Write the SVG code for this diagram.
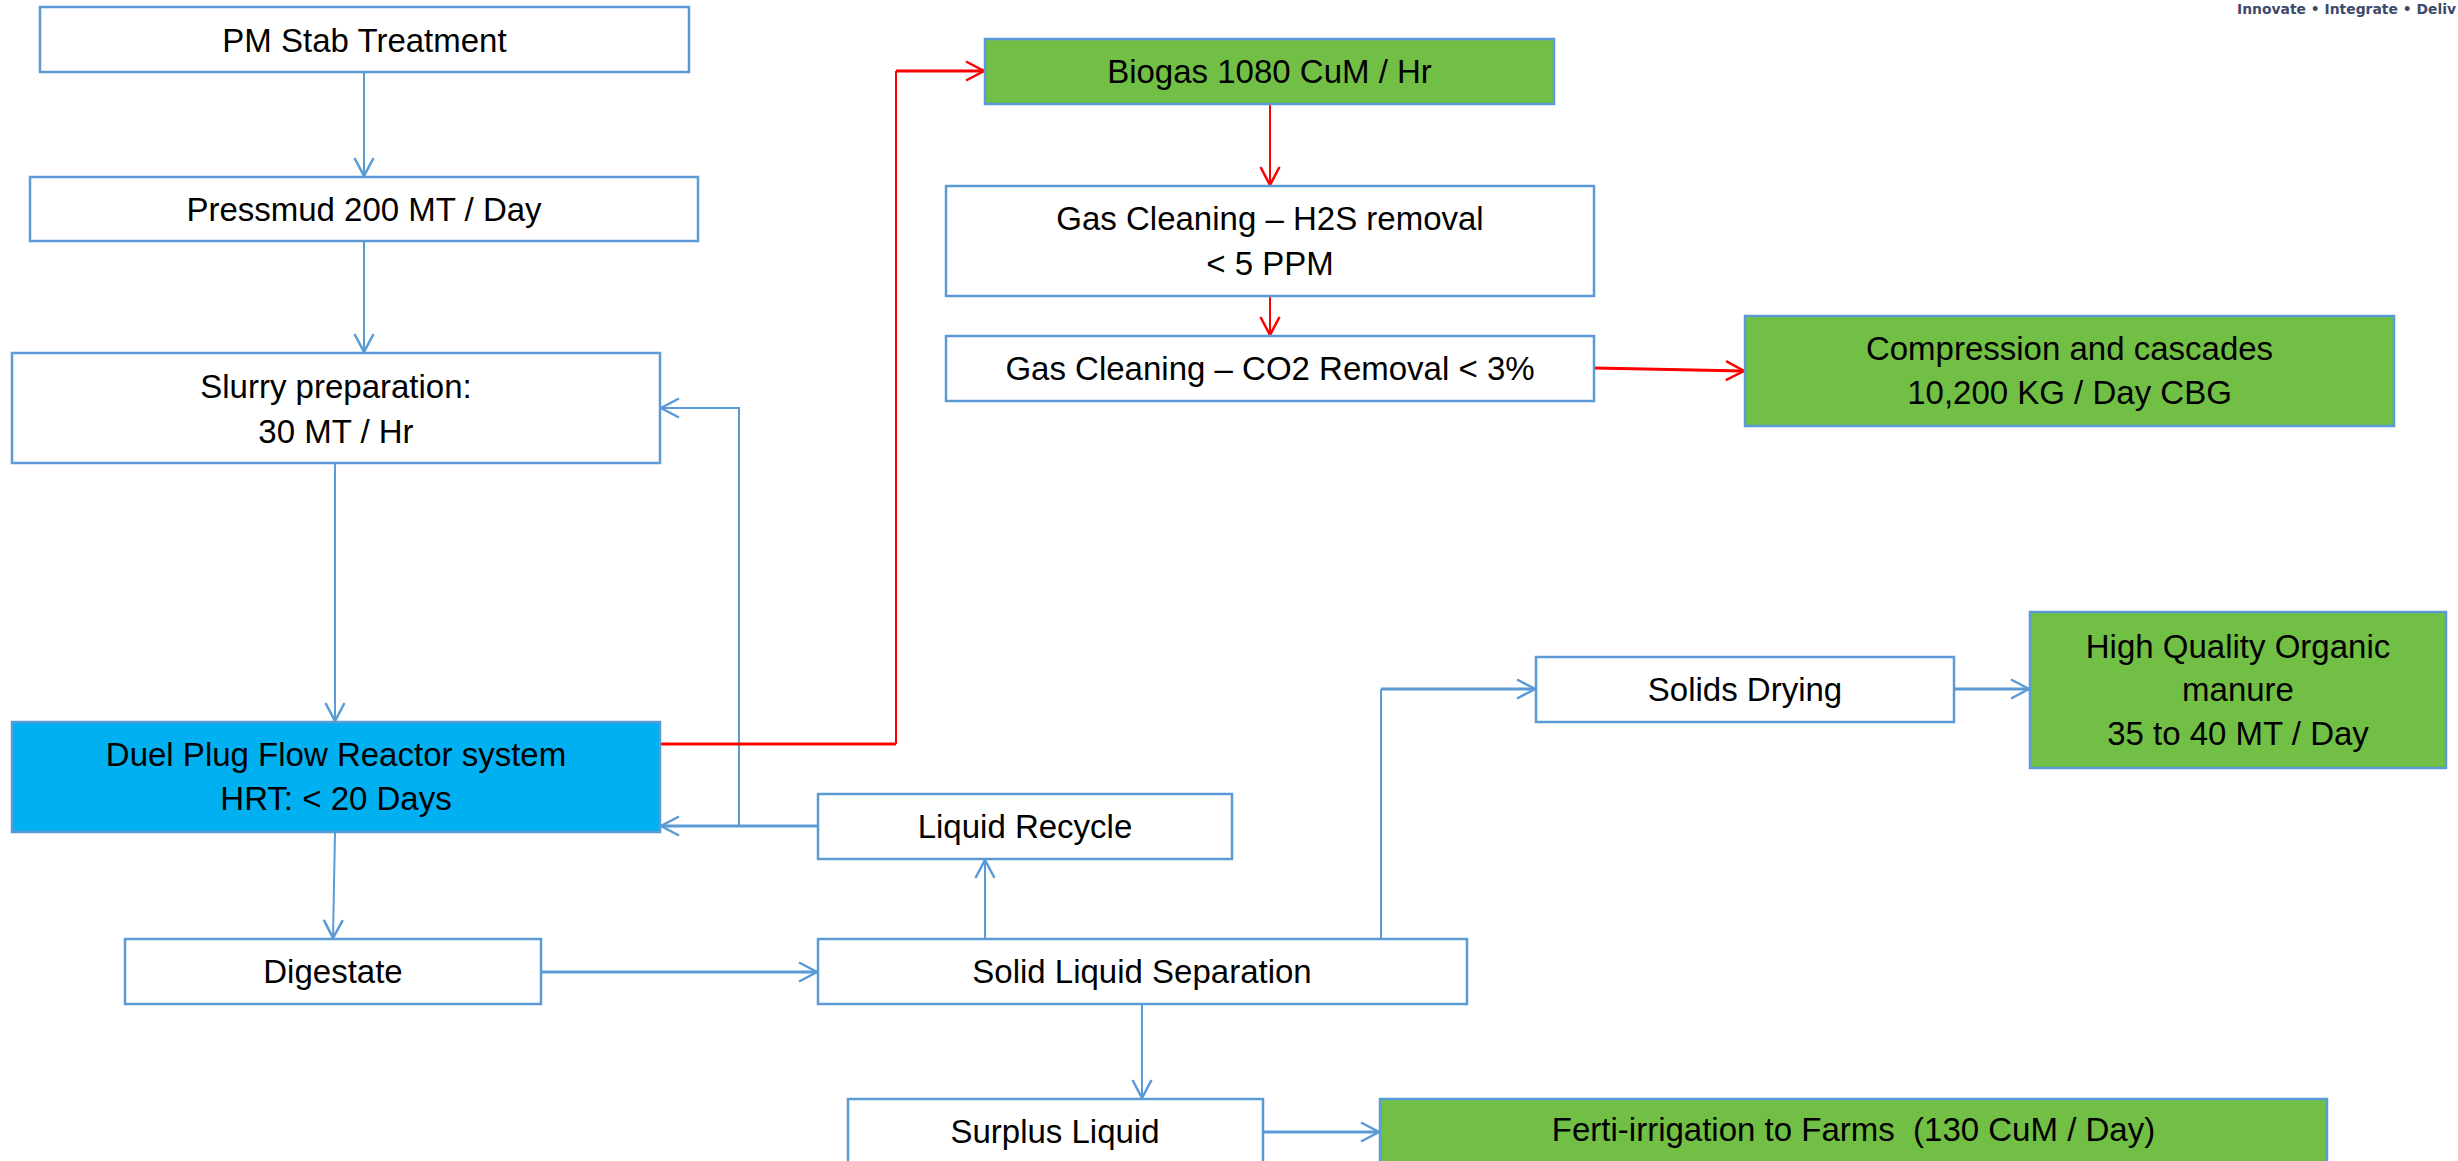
<svg xmlns="http://www.w3.org/2000/svg" width="2458" height="1161" viewBox="0 0 2458 1161">
<style>
.box{fill:#FFFFFF;stroke:#5B9BD5;stroke-width:2.5}
.green{fill:#71BF44;stroke:#5B9BD5;stroke-width:2.5}
.blue{fill:#00B0F0;stroke:#5B9BD5;stroke-width:2.5}
.t{font-family:"Liberation Sans",Arial,sans-serif;font-size:33px;fill:#000000;text-anchor:middle;white-space:pre}
.c{fill:none;stroke:#5B9BD5;stroke-width:2}
.ct{fill:none;stroke:#5B9BD5;stroke-width:3}
.r{fill:none;stroke:#FF0000;stroke-width:2}
.rt{fill:none;stroke:#FF0000;stroke-width:3}
.logo{font-family:"DejaVu Sans",Verdana,sans-serif;font-size:14px;fill:#3E4A6B;font-weight:bold}
</style>
<defs>
<marker id="ab" markerUnits="userSpaceOnUse" viewBox="-20 -12 22 24" markerWidth="22" markerHeight="24" refX="0" refY="0" orient="auto" overflow="visible">
<path d="M-18,-9.5 L0,0 L-18,9.5" fill="none" stroke="#5B9BD5" stroke-width="2.5"/>
</marker>
<marker id="ar" markerUnits="userSpaceOnUse" viewBox="-20 -12 22 24" markerWidth="22" markerHeight="24" refX="0" refY="0" orient="auto" overflow="visible">
<path d="M-18,-9.5 L0,0 L-18,9.5" fill="none" stroke="#FF0000" stroke-width="2.5"/>
</marker>
</defs>
<rect width="2458" height="1161" fill="#FFFFFF"/>
<text class="logo" x="2237" y="14" textLength="219" lengthAdjust="spacingAndGlyphs">Innovate • Integrate • Deliv</text>

<g id="connectors">
<path class="c" d="M364,72 L364,176" marker-end="url(#ab)"/>
<path class="c" d="M364,241 L364,352" marker-end="url(#ab)"/>
<path class="c" d="M335,463 L335,721" marker-end="url(#ab)"/>
<path class="c" d="M335,832 L333,938" marker-end="url(#ab)"/>
<path class="ct" d="M541,972 L817,972" marker-end="url(#ab)"/>
<path class="c" d="M985,939 L985,860" marker-end="url(#ab)"/>
<path class="ct" d="M818,826 L661,826" marker-end="url(#ab)"/>
<path class="c" d="M739,826 L739,408 L661,408" marker-end="url(#ab)"/>
<path class="c" d="M1142,1004 L1142,1098" marker-end="url(#ab)"/>
<path class="ct" d="M1263,1132 L1379,1132" marker-end="url(#ab)"/>
<path class="c" d="M1381,939 L1381,689"/>
<path class="ct" d="M1381,689 L1535,689" marker-end="url(#ab)"/>
<path class="ct" d="M1954,689 L2029,689" marker-end="url(#ab)"/>
<path class="rt" d="M660,744 L896,744"/>
<path class="r" d="M896,744 L896,71"/>
<path class="rt" d="M896,71 L984,71" marker-end="url(#ar)"/>
<path class="r" d="M1270,104 L1270,185" marker-end="url(#ar)"/>
<path class="r" d="M1270,296 L1270,335" marker-end="url(#ar)"/>
<path class="rt" d="M1594,368 L1744,371" marker-end="url(#ar)"/>
</g>

<g id="pm-stab">
<rect class="box" x="40" y="7" width="649" height="65"/>
<text class="t" x="364.5" y="52">PM Stab Treatment</text>
</g>
<g id="pressmud">
<rect class="box" x="30" y="177" width="668" height="64"/>
<text class="t" x="364" y="221">Pressmud 200 MT / Day</text>
</g>
<g id="slurry">
<rect class="box" x="12" y="353" width="648" height="110"/>
<text class="t" x="336" y="398">Slurry preparation:</text>
<text class="t" x="336" y="443">30 MT / Hr</text>
</g>
<g id="reactor">
<rect class="blue" x="12" y="722" width="648" height="110"/>
<text class="t" x="336" y="766">Duel Plug Flow Reactor system</text>
<text class="t" x="336" y="810">HRT: &lt; 20 Days</text>
</g>
<g id="digestate">
<rect class="box" x="125" y="939" width="416" height="65"/>
<text class="t" x="333" y="983">Digestate</text>
</g>
<g id="solid-liquid-separation">
<rect class="box" x="818" y="939" width="649" height="65"/>
<text class="t" x="1142" y="983">Solid Liquid Separation</text>
</g>
<g id="liquid-recycle">
<rect class="box" x="818" y="794" width="414" height="65"/>
<text class="t" x="1025" y="838">Liquid Recycle</text>
</g>
<g id="surplus-liquid">
<rect class="box" x="848" y="1099" width="415" height="75"/>
<text class="t" x="1055" y="1143">Surplus Liquid</text>
</g>
<g id="ferti-irrigation">
<rect class="green" x="1380" y="1099" width="947" height="75"/>
<text class="t" x="1853.5" y="1141">Ferti-irrigation to Farms  (130 CuM / Day)</text>
</g>
<g id="solids-drying">
<rect class="box" x="1536" y="657" width="418" height="65"/>
<text class="t" x="1745" y="701">Solids Drying</text>
</g>
<g id="organic-manure">
<rect class="green" x="2030" y="612" width="416" height="156"/>
<text class="t" x="2238" y="658">High Quality Organic</text>
<text class="t" x="2238" y="701">manure</text>
<text class="t" x="2238" y="745">35 to 40 MT / Day</text>
</g>
<g id="biogas">
<rect class="green" x="985" y="39" width="569" height="65"/>
<text class="t" x="1269.5" y="83">Biogas 1080 CuM / Hr</text>
</g>
<g id="h2s-removal">
<rect class="box" x="946" y="186" width="648" height="110"/>
<text class="t" x="1270" y="230">Gas Cleaning – H2S removal</text>
<text class="t" x="1270" y="275">&lt; 5 PPM</text>
</g>
<g id="co2-removal">
<rect class="box" x="946" y="336" width="648" height="65"/>
<text class="t" x="1270" y="380">Gas Cleaning – CO2 Removal &lt; 3%</text>
</g>
<g id="compression">
<rect class="green" x="1745" y="316" width="649" height="110"/>
<text class="t" x="2069.5" y="360">Compression and cascades</text>
<text class="t" x="2069.5" y="404">10,200 KG / Day CBG</text>
</g>
</svg>
